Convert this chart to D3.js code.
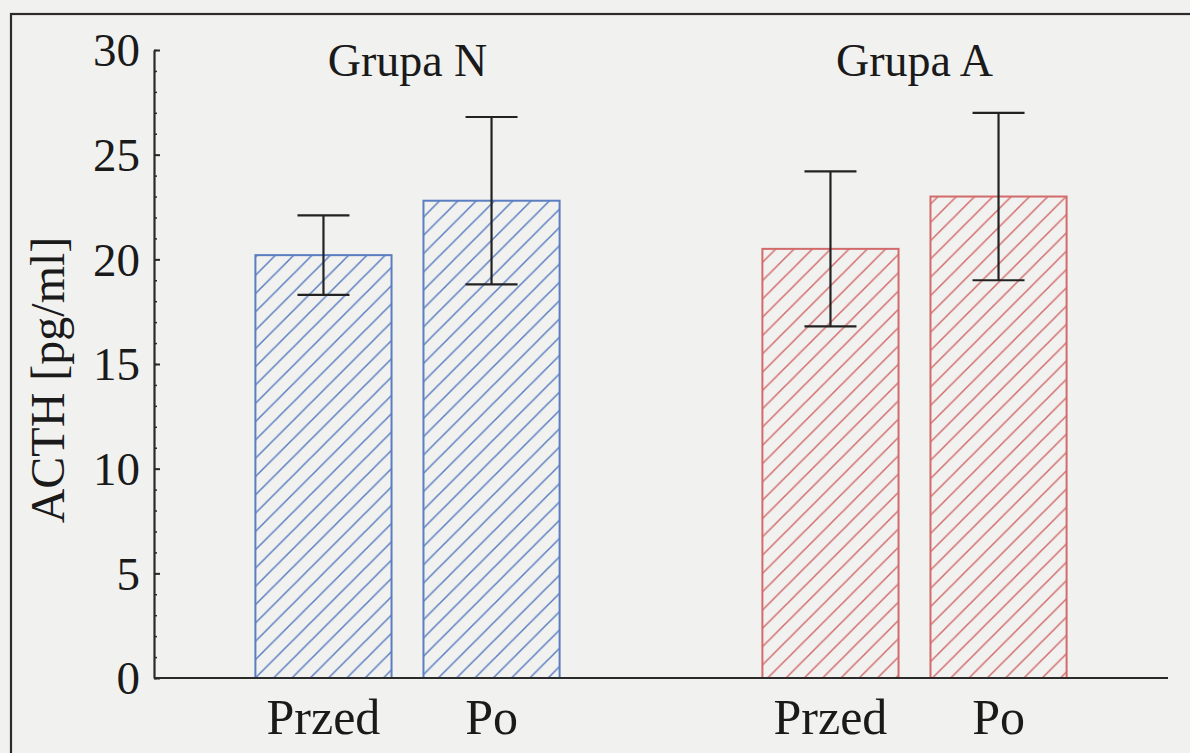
<!DOCTYPE html>
<html>
<head>
<meta charset="utf-8">
<script src="https://cdn.jsdelivr.net/npm/d3@7/dist/d3.min.js"></script>
<style>
  html, body { margin: 0; padding: 0; background: #f1f1ef; }
  svg { display: block; }
  text { font-family: "Liberation Serif", "Times New Roman", serif; fill: #1a1a1a; }
</style>
</head>
<body>
<svg id="chart" width="1190" height="753"></svg>
<script>
// ACTH before/after, two groups
const groups = ["Grupa N", "Grupa A"];
const phases = ["Przed", "Po"];
const barGroup = ["Grupa N", "Grupa N", "Grupa A", "Grupa A"];
const barPhase = ["Przed", "Po", "Przed", "Po"];
const meanValues = [20.2, 22.8, 20.5, 23.0];
const sdValues = [1.9, 4.0, 3.7, 4.0];
const yTickValues = [0, 5, 10, 15, 20, 25, 30];
const yMinorTickValues = d3.range(0, 31, 1);
const yLabel = "ACTH [pg/ml]";

const groupColor = { "Grupa N": "#5b7ec1", "Grupa A": "#d26b6b" };

const bars = meanValues.map((v, i) => ({
  group: barGroup[i], phase: barPhase[i], mean: v, sd: sdValues[i]
}));

const svg = d3.select("#chart");
const plot = { left: 154, right: 1168, top: 50, bottom: 678 };

// Outer frame
svg.append("rect")
  .attr("x", 11).attr("y", 14)
  .attr("width", 1200).attr("height", 800)
  .attr("fill", "none").attr("stroke", "#2e2a2c").attr("stroke-width", 2.2);

const x0 = d3.scaleBand().domain(groups)
  .range([plot.left, plot.right]).paddingInner(0.4).paddingOuter(0.2);
const x1 = d3.scaleBand().domain(phases)
  .range([0, x0.bandwidth()]).paddingInner(0.19).paddingOuter(0);
const y = d3.scaleLinear().domain([0, 30]).range([plot.bottom, plot.top]);

// Diagonal hatch patterns
const defs = svg.append("defs");
groups.forEach((g, i) => {
  const s = 18.3;
  defs.append("pattern")
    .attr("id", "hatch" + i)
    .attr("patternUnits", "userSpaceOnUse")
    .attr("width", s).attr("height", s)
    .append("path")
    .attr("d", `M0,${s} L${s},0 M${-s/2},${s/2} L${s/2},${-s/2} M${s/2},${s*1.5} L${s*1.5},${s/2}`)
    .attr("stroke", groupColor[g]).attr("stroke-width", 1.5);
});

// Bars
svg.append("g").selectAll("rect")
  .data(bars).join("rect")
  .attr("x", d => x0(d.group) + x1(d.phase))
  .attr("y", d => y(d.mean))
  .attr("width", x1.bandwidth())
  .attr("height", d => y(0) - y(d.mean))
  .attr("fill", d => `url(#hatch${groups.indexOf(d.group)})`)
  .attr("stroke", d => groupColor[d.group])
  .attr("stroke-width", 2);

// Error bars (mean ± SD)
const capHalf = 26;
const eb = svg.append("g").attr("stroke", "#222").attr("stroke-width", 2.2);
bars.forEach(d => {
  const cx = x0(d.group) + x1(d.phase) + x1.bandwidth() / 2;
  const yt = y(d.mean + d.sd), yb = y(d.mean - d.sd);
  eb.append("line").attr("x1", cx).attr("x2", cx).attr("y1", yt).attr("y2", yb);
  eb.append("line").attr("x1", cx - capHalf).attr("x2", cx + capHalf).attr("y1", yt).attr("y2", yt);
  eb.append("line").attr("x1", cx - capHalf).attr("x2", cx + capHalf).attr("y1", yb).attr("y2", yb);
});

// Y axis: minor ticks
svg.append("g")
  .attr("transform", `translate(${plot.left},0)`)
  .call(d3.axisLeft(y).tickValues(yMinorTickValues).tickSize(-3).tickSizeOuter(0).tickFormat(""))
  .call(g => g.select(".domain").remove())
  .call(g => g.selectAll("line").attr("stroke", "#2a2a2a").attr("stroke-width", 1.5));

// Y axis: major ticks and labels
svg.append("g")
  .attr("transform", `translate(${plot.left},0)`)
  .call(d3.axisLeft(y).tickValues(yTickValues).tickSize(-6).tickSizeOuter(0).tickPadding(14).tickFormat(d3.format("d")))
  .call(g => g.select(".domain").attr("stroke", "#2a2a2a").attr("stroke-width", 2.2))
  .call(g => g.selectAll("line").attr("stroke", "#2a2a2a").attr("stroke-width", 2))
  .call(g => g.selectAll("text")
    .attr("font-family", '"Liberation Serif", "Times New Roman", serif')
    .attr("font-size", 47).attr("fill", "#1a1a1a").attr("dy", "0.34em"));

// X axis baseline
svg.append("line")
  .attr("x1", plot.left).attr("x2", plot.right)
  .attr("y1", y(0)).attr("y2", y(0))
  .attr("stroke", "#2a2a2a").attr("stroke-width", 2.2);

// Category labels
svg.append("g").selectAll("text")
  .data(bars).join("text")
  .attr("x", d => x0(d.group) + x1(d.phase) + x1.bandwidth() / 2)
  .attr("y", 734)
  .attr("text-anchor", "middle")
  .attr("font-size", 50)
  .text(d => d.phase);

// Group labels
svg.append("g").selectAll("text")
  .data(groups).join("text")
  .attr("x", g => x0(g) + x0.bandwidth() / 2)
  .attr("y", 76)
  .attr("text-anchor", "middle")
  .attr("font-size", 46)
  .text(g => g);

// Y axis title
svg.append("text")
  .attr("transform", "translate(64,380) rotate(-90)")
  .attr("text-anchor", "middle")
  .attr("font-size", 48)
  .text(yLabel);
</script>
</body>
</html>
